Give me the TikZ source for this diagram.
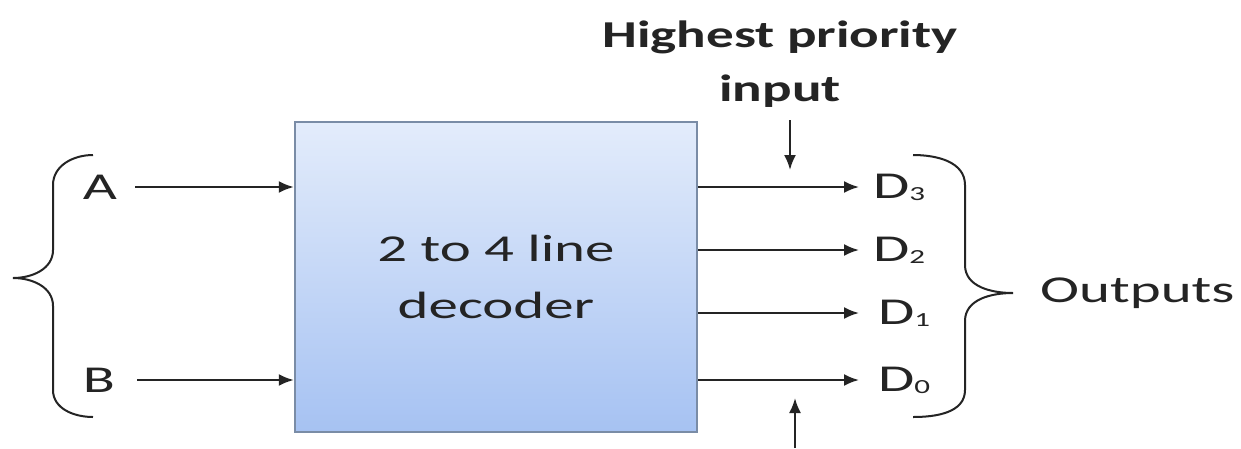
\documentclass[tikz,border=0pt]{standalone}
\usepackage{fontspec}
\usepackage{graphicx}
\setmainfont{Carlito}
\usetikzlibrary{arrows.meta}
\definecolor{ink}{HTML}{242424}
\definecolor{boxtop}{HTML}{E3ECFB}
\definecolor{boxbot}{HTML}{A6C2F2}
\definecolor{boxline}{HTML}{7A8CA6}
% labels are set wide, as in the drawing
\newcommand{\wide}[1]{\scalebox{1.55}[1]{#1}}
\newcommand{\dsub}[1]{D\raisebox{-2pt}{\fontsize{20}{20}\selectfont #1}}
\tikzset{
  lbl/.style={font=\fontsize{38}{40}\selectfont, text=ink, inner sep=0pt},
  arr/.style={draw=ink, line width=2.2pt, -{Latex[length=15pt,width=12pt]}},
  brace/.style={draw=ink, line width=2pt}
}
\begin{document}
\begin{tikzpicture}[x=1pt,y=-1pt]
\useasboundingbox (0,0) rectangle (1241,448);
\fill[white] (0,0) rectangle (1241,448);

% decoder block
\node (dec) [draw=boxline, line width=2.4pt, top color=boxtop, bottom color=boxbot,
  minimum width=402pt, minimum height=310pt, inner sep=0pt, align=center,
  font=\fontsize{38}{57}\selectfont, text=ink] at (496,277) {\wide{2 to 4 line}\\\wide{decoder}};

% inputs
\node (A) [lbl] at (100,187) {\wide{A}};
\node (B) [lbl] at (99,380) {\wide{B}};
\draw[arr, shorten <=18pt] (A.east) -- (A.east -| dec.west);
\draw[arr, shorten <=22pt] (B.east) -- (B.east -| dec.west);

% outputs
\node (D3) [lbl, anchor=west] at (873,187) {\wide{\dsub{3}}};
\node (D2) [lbl, anchor=west] at (873,250) {\wide{\dsub{2}}};
\node (D1) [lbl, anchor=west] at (878,313) {\wide{\dsub{1}}};
\node (D0) [lbl, anchor=west] at (878,380) {\wide{\dsub{0}}};
\draw[arr, shorten >=14pt] (D3.west -| dec.east) -- (D3.west);
\draw[arr, shorten >=14pt] (D2.west -| dec.east) -- (D2.west);
\draw[arr, shorten >=19pt] (D1.west -| dec.east) -- (D1.west);
\draw[arr, shorten >=19pt] (D0.west -| dec.east) -- (D0.west);

% input brace
\draw[brace] (93,155) to[out=180,in=90] (53,185) -- (53,250)
  to[out=-90,in=0] (13,278) to[out=0,in=90] (53,306) -- (53,390)
  to[out=-90,in=180] (93,417);

% output brace
\draw[brace] (913,155) to[out=0,in=90] (965,185) -- (965,265)
  to[out=-90,in=180] (1013,293) to[out=180,in=90] (965,321) -- (965,390)
  to[out=-90,in=0] (913,417);
\node (out) [lbl, anchor=west] at (1040,293) {\wide{Outputs}};

% priority annotation
\node (hp) [lbl, align=center, font=\fontsize{38}{54}\selectfont\bfseries] at (780,64)
  {\scalebox{1.45}[1]{Highest priority}\\\scalebox{1.45}[1]{input}};
\coordinate (hpin) at (790,120);
\coordinate (hpend) at (790,170);
\draw[arr] (hpin) -- (hpend);
\coordinate (lowin) at (795,448);
\coordinate (lowend) at (795,398);
\draw[arr] (lowin) -- (lowend);
\end{tikzpicture}
\end{document}
